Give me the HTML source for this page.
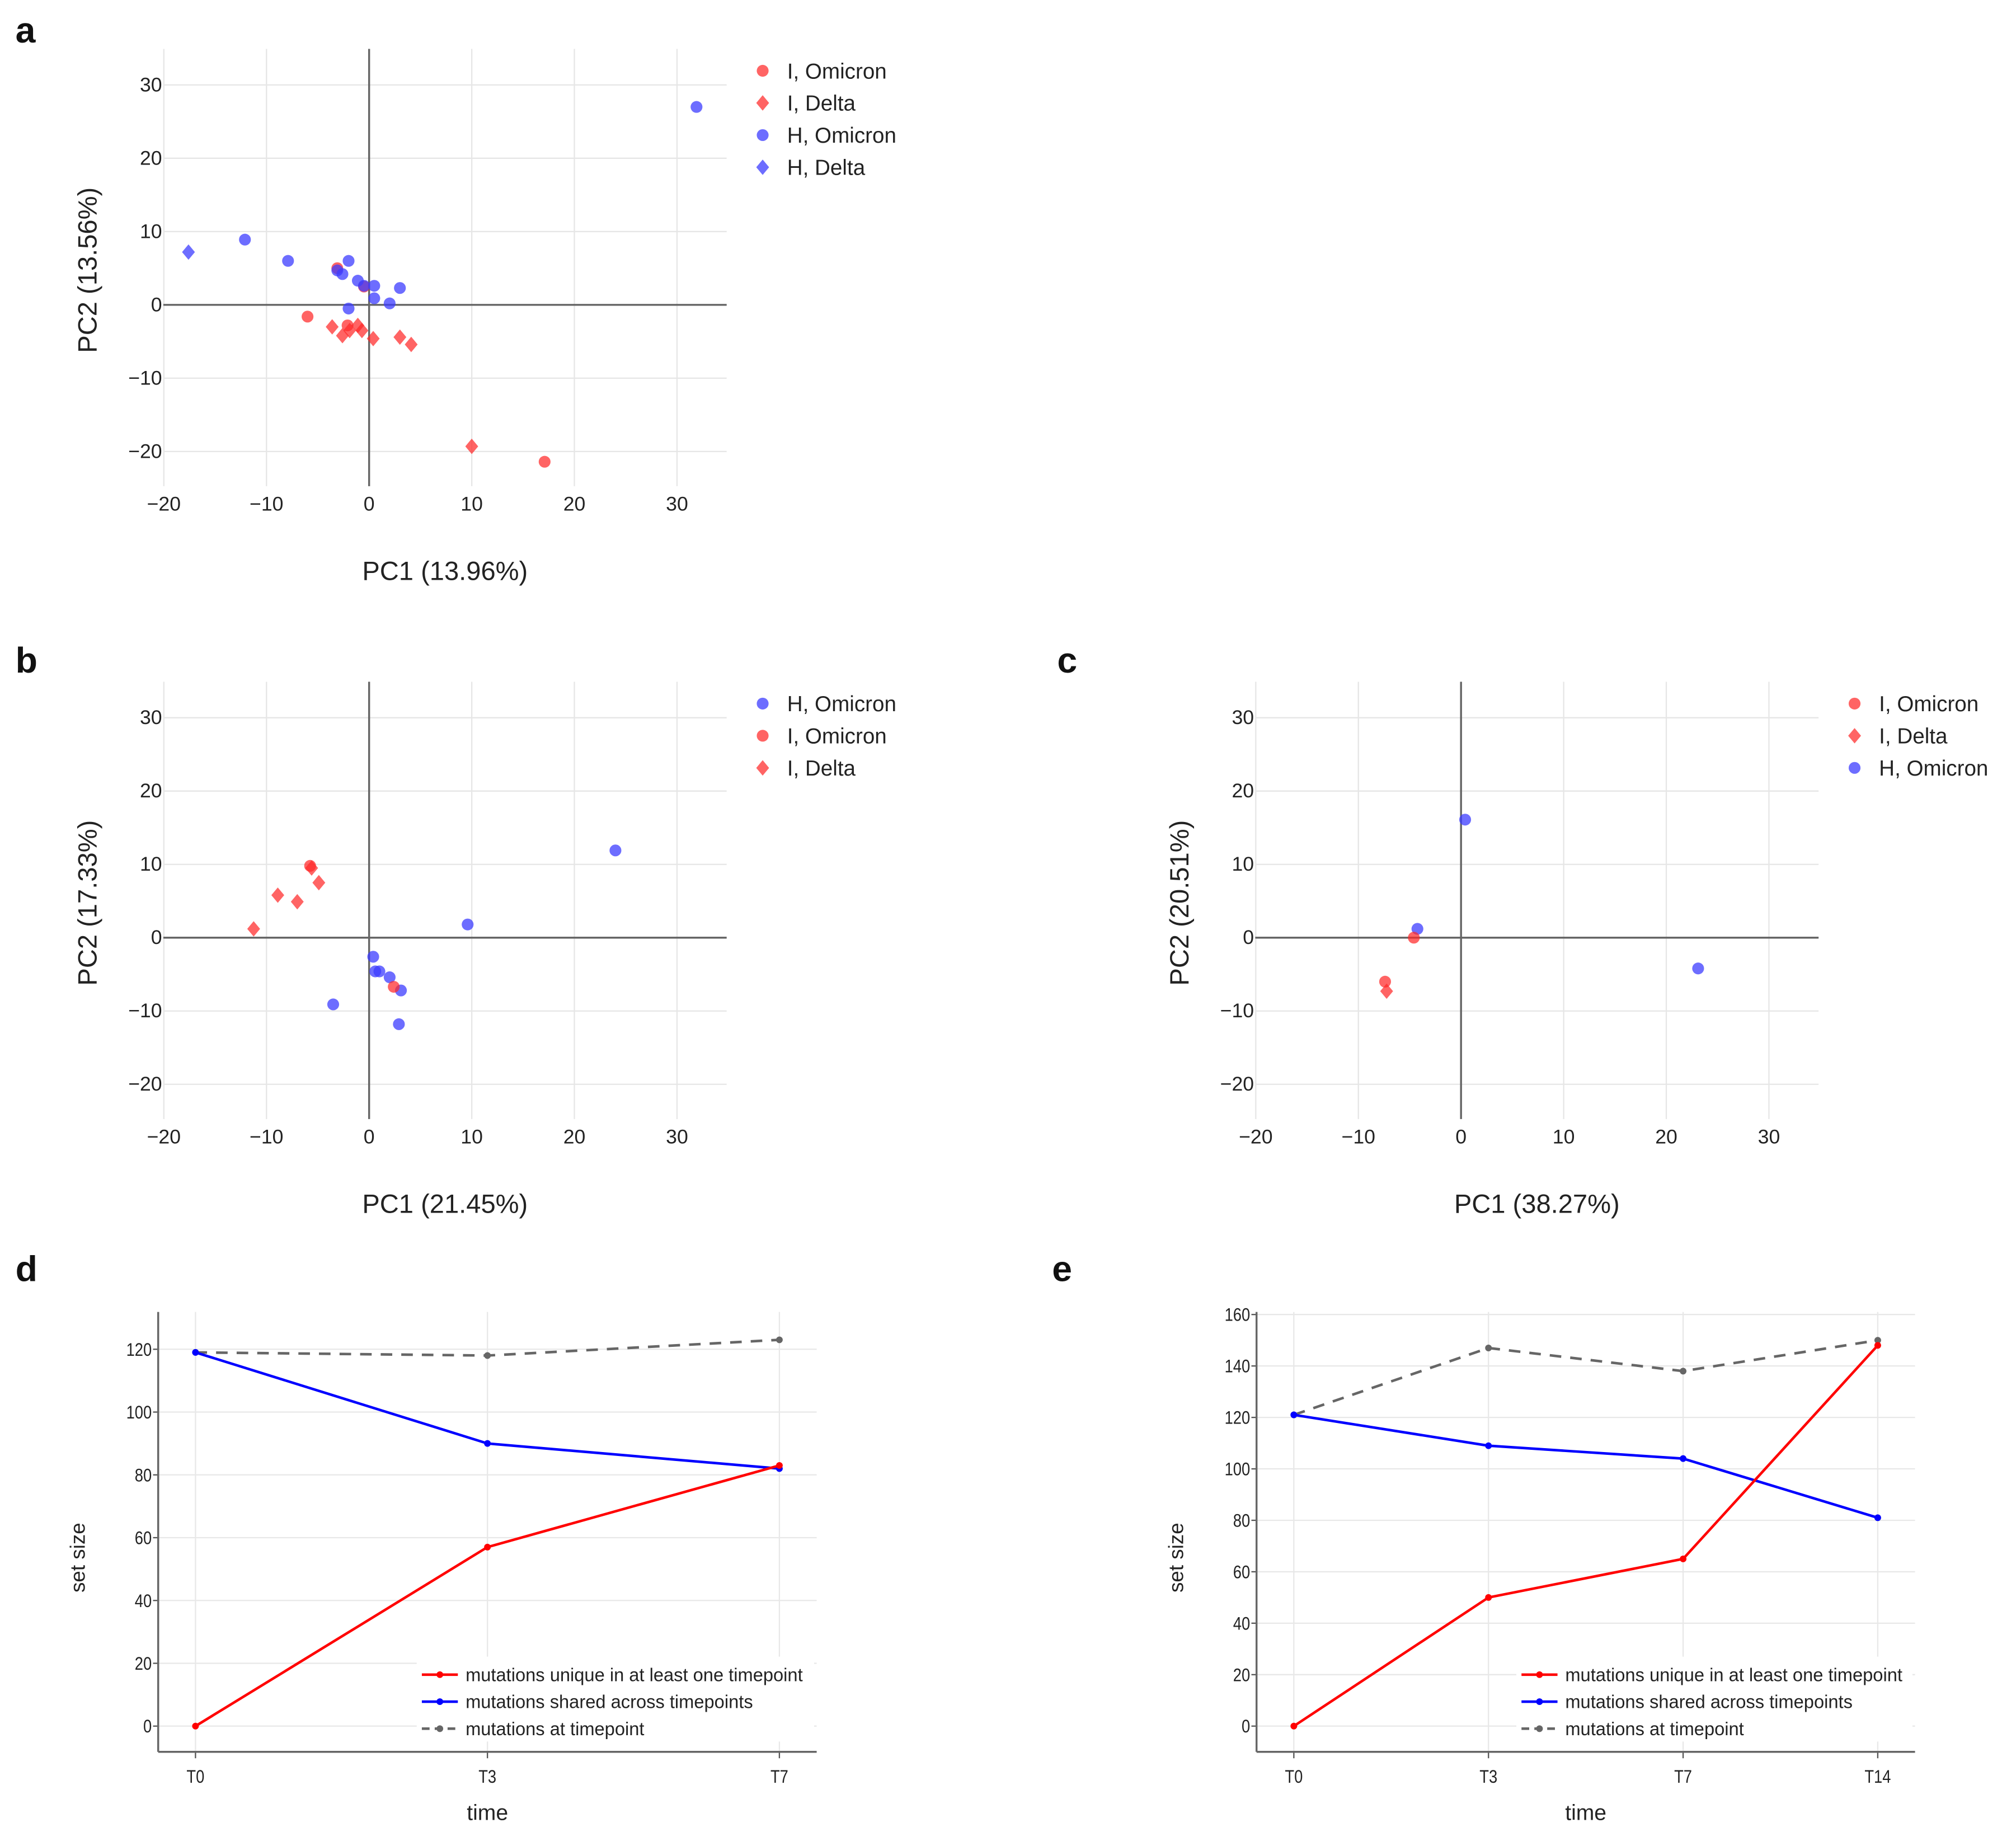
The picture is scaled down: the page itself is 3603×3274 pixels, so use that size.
<!DOCTYPE html>
<html><head><meta charset="utf-8"><style>
html,body{margin:0;padding:0;background:#fff;}
svg{display:block;font-family:"Liberation Sans",sans-serif;}
</style></head><body>
<svg id="fig" width="3603" height="3274" viewBox="0 0 1567.5 1424.3" xmlns="http://www.w3.org/2000/svg">
<rect width="1567.5" height="1424.3" fill="#fff"/>
<g id="root"></g>
</svg>
<script>
// ---- Panel a data ----
const aHOmiX=[31.9,-12.1,-7.9,-2,-3.1,-2.6,-1.1,0.5,-0.5,3,0.5,2,-2];
const aHOmiY=[27,8.9,6,6,4.7,4.2,3.3,2.6,2.6,2.3,0.9,0.2,-0.5];
const aHDelX=[-17.6];
const aHDelY=[7.2];
const aIOmiX=[-6,17.1,-3.1,-0.5,-2.1];
const aIOmiY=[-1.6,-21.4,5,2.5,-2.8];
const aIDelX=[-3.6,-2.6,-1.9,-1.1,-0.7,0.4,3,4.1,10];
const aIDelY=[-3,-4.2,-3.5,-2.8,-3.5,-4.6,-4.4,-5.4,-19.3];
// ---- Panel b data ----
const bHOmiX=[24,9.6,0.4,0.6,1,2,3.1,2.9,-3.5];
const bHOmiY=[11.9,1.8,-2.6,-4.6,-4.6,-5.4,-7.2,-11.8,-9.1];
const bIOmiX=[-5.75,2.4];
const bIOmiY=[9.8,-6.7];
const bIDelX=[-5.6,-4.9,-8.9,-7,-11.25];
const bIDelY=[9.5,7.5,5.8,4.9,1.2];
// ---- Panel c data ----
const cHOmiX=[0.4,-4.25,23.1];
const cHOmiY=[16.1,1.2,-4.2];
const cIOmiX=[-4.6,-7.4];
const cIOmiY=[0,-6];
const cIDelX=[-7.25];
const cIDelY=[-7.3];
const pcaTicks=[-20,-10,0,10,20,30];
// ---- Panel d data ----
const dCats=["T0","T3","T7"];
const dUnique=[0,57,83];
const dShared=[119,90,82];
const dAt=[119,118,123];
const dTicks=[0,20,40,60,80,100,120];
// ---- Panel e data ----
const eCats=["T0","T3","T7","T14"];
const eUnique=[0,50,65,148];
const eShared=[121,109,104,81];
const eAt=[121,147,138,150];
const eTicks=[0,20,40,60,80,100,120,140,160];

const NS="http://www.w3.org/2000/svg";
const root=document.getElementById('root');
function mk(tag,attrs,parent,text){const e=document.createElementNS(NS,tag);for(const k in attrs)e.setAttribute(k,attrs[k]);if(text!==undefined)e.textContent=text;(parent||root).appendChild(e);return e;}

const RED="rgba(255,40,40,0.72)", BLUE="rgba(60,60,255,0.75)";

function panelLetter(t,x,y){
  const e=mk('text',{x:x,y:y,'font-size':28,'font-weight':'bold',fill:'#111'},root,t);
  
  
}

function pca(id,ox,oy,series,legend,xt,yt){
  const g=mk('g',{});
  
  
  const sx=v=>ox+287+v*7.98, sy=v=>oy+237-v*5.7;
  const top=oy+38,bot=oy+378,left=ox+127,right=ox+565;
  pcaTicks.forEach(t=>{
    const l=mk('line',{x1:sx(t),x2:sx(t),y1:top,y2:bot,stroke:'#e6e6e6','stroke-width':1},g);
    
    
    const lb=mk('text',{x:sx(t),y:oy+397,'font-size':15.5,'text-anchor':'middle',fill:'#222'},g,t<0?'\u2212'+(-t):t);
    
    
    const h=mk('line',{x1:left,x2:right,y1:sy(t),y2:sy(t),stroke:'#e6e6e6','stroke-width':1},g);
    
    
    const yl=mk('text',{x:left-1,y:sy(t)+5,'font-size':15.5,'text-anchor':'end',fill:'#222'},g,t<0?'\u2212'+(-t):t);
    
    
  });
  const ax=mk('line',{x1:sx(0),x2:sx(0),y1:top,y2:bot,stroke:'#666','stroke-width':1.5},g);
  
  
  const ay=mk('line',{x1:left,x2:right,y1:sy(0),y2:sy(0),stroke:'#666','stroke-width':1.5},g);
  
  
  series.forEach(s=>{
    s.xs.forEach((v,i)=>{
      const px=sx(v),py=sy(s.ys[i]);
      let m;
      if(s.shape==='d') m=mk('polygon',{points:`${px},${py-6} ${px+5},${py} ${px},${py+6} ${px-5},${py}`,fill:s.col},g);
      else m=mk('circle',{cx:px,cy:py,r:4.6,fill:s.col},g);
      
      
    });
  });
  const xt1=mk('text',{x:ox+346,y:oy+451,'font-size':20.5,'text-anchor':'middle',fill:'#222'},g,xt);
  
  
  const yt1=mk('text',{transform:`translate(${ox+75},${oy+210}) rotate(-90)`,'font-size':20.5,'text-anchor':'middle',fill:'#222'},g,yt);
  
  
  legend.forEach((L,i)=>{
    const y=oy+55+i*25, mx=ox+593+(L.dx||0);
    let m;
    if(L.shape==='d') m=mk('polygon',{points:`${mx},${y-6} ${mx+5},${y} ${mx},${y+6} ${mx-5},${y}`,fill:L.col},g);
    else m=mk('circle',{cx:mx,cy:y,r:4.6,fill:L.col},g);
    
    
    const t=mk('text',{x:mx+19,y:y+6,'font-size':16.8,fill:'#222'},g,L.label);
    
    
  });
}

panelLetter('a',12,33);
pca('a',0,0,[
  {name:'i-omicron',xs:aIOmiX,ys:aIOmiY,col:RED,shape:'c'},
  {name:'i-delta',xs:aIDelX,ys:aIDelY,col:RED,shape:'d'},
  {name:'h-omicron',xs:aHOmiX,ys:aHOmiY,col:BLUE,shape:'c'},
  {name:'h-delta',xs:aHDelX,ys:aHDelY,col:BLUE,shape:'d'}],
  [{label:'I, Omicron',col:RED,shape:'c'},{label:'I, Delta',col:RED,shape:'d'},{label:'H, Omicron',col:BLUE,shape:'c'},{label:'H, Delta',col:BLUE,shape:'d'}],
  'PC1 (13.96%)','PC2 (13.56%)');
panelLetter('b',12,523);
pca('b',0,492,[
  {name:'h-omicron',xs:bHOmiX,ys:bHOmiY,col:BLUE,shape:'c'},
  {name:'i-omicron',xs:bIOmiX,ys:bIOmiY,col:RED,shape:'c'},
  {name:'i-delta',xs:bIDelX,ys:bIDelY,col:RED,shape:'d'}],
  [{label:'H, Omicron',col:BLUE,shape:'c'},{label:'I, Omicron',col:RED,shape:'c'},{label:'I, Delta',col:RED,shape:'d'}],
  'PC1 (21.45%)','PC2 (17.33%)');
panelLetter('c',822,523);
pca('c',849,492,[
  {name:'h-omicron',xs:cHOmiX,ys:cHOmiY,col:BLUE,shape:'c'},
  {name:'i-omicron',xs:cIOmiX,ys:cIOmiY,col:RED,shape:'c'},
  {name:'i-delta',xs:cIDelX,ys:cIDelY,col:RED,shape:'d'}],
  [{label:'I, Omicron',col:RED,shape:'c'},{label:'I, Delta',col:RED,shape:'d'},{label:'H, Omicron',col:BLUE,shape:'c'}],
  'PC1 (38.27%)','PC2 (20.51%)');

function linePanel(id,cfg){
  const g=mk('g',{});
  
  
  const {left,right,top,bottom,cx0,cx1,y0px,ymaxv,ymaxpx,cats,ticks}=cfg;
  const sx=i=>cx0+i*(cx1-cx0)/(cats.length-1);
  const sy=v=>y0px-v*(y0px-ymaxpx)/ymaxv;
  ticks.forEach(t=>{
    const h=mk('line',{x1:left,x2:right,y1:sy(t),y2:sy(t),stroke:'#e8e8e8','stroke-width':1},g);
    
    
    mk('line',{x1:left-4,x2:left,y1:sy(t),y2:sy(t),stroke:'#555','stroke-width':1},g);
    const l=mk('text',{x:0,y:0,'font-size':14,'text-anchor':'end',fill:'#222',transform:`translate(${left-5},${sy(t)+5}) scale(0.85,1)`},g,t);
    
    
  });
  cats.forEach((c,i)=>{
    const v=mk('line',{x1:sx(i),x2:sx(i),y1:top,y2:bottom,stroke:'#e8e8e8','stroke-width':1},g);
    
    
    mk('line',{x1:sx(i),x2:sx(i),y1:bottom,y2:bottom+5,stroke:'#555','stroke-width':1},g);
    const l=mk('text',{x:0,y:0,'font-size':14,'text-anchor':'middle',fill:'#222',transform:`translate(${sx(i)},${bottom+24}) scale(0.85,1)`},g,c);
    
    
  });
  const la=mk('line',{x1:left,x2:left,y1:top,y2:bottom,stroke:'#666','stroke-width':1.5},g);
  
  
  const lb=mk('line',{x1:left,x2:right,y1:bottom,y2:bottom,stroke:'#666','stroke-width':1.5},g);
  
  
  const series=[
    {name:'mutations-at-timepoint',vals:cfg.at,col:'#666',dash:'9,7'},
    {name:'mutations-shared',vals:cfg.shared,col:'#0000ff',dash:''},
    {name:'mutations-unique',vals:cfg.unique,col:'#ff0000',dash:''}];
  const lx=cfg.legX;
  const bg=mk('rect',{x:lx-4,y:bottom-74,width:right-lx+2,height:66,fill:'#fff'},g);
  
  
  series.forEach(s=>{
    const pts=s.vals.map((v,i)=>sx(i)+','+sy(v)).join(' ');
    const pl=mk('polyline',{points:pts,fill:'none',stroke:s.col,'stroke-width':2,'stroke-dasharray':s.dash},g);
    
    
    s.vals.forEach((v,i)=>{
      const c=mk('circle',{cx:sx(i),cy:sy(v),r:2.6,fill:s.col},g);
      
      
    });
  });
  const leg=[['mutations unique in at least one timepoint','#ff0000',''],['mutations shared across timepoints','#0000ff',''],['mutations at timepoint','#666','6,4']];
  leg.forEach((L,i)=>{
    const y=bottom-60+i*21;
    mk('line',{x1:lx,x2:lx+28,y1:y,y2:y,stroke:L[1],'stroke-width':2,'stroke-dasharray':L[2]},g);
    mk('circle',{cx:lx+14,cy:y,r:2.6,fill:L[1]},g);
    const t=mk('text',{x:0,y:0,'font-size':14.5,fill:'#222',transform:`translate(${lx+34},${y+5}) scale(0.98,1)`},g,L[0]);
    
    
  });
  const xt=mk('text',{x:(left+right)/2,y:bottom+53,'font-size':17,'text-anchor':'middle',fill:'#222'},g,'time');
  
  
  const yt=mk('text',{transform:`translate(${cfg.ytX},${(top+bottom)/2+20}) rotate(-90)`,'font-size':16,'text-anchor':'middle',fill:'#222'},g,'set size');
  
  
}

panelLetter('d',12,996);
linePanel('d',{left:123,right:635,top:1020,bottom:1362,cx0:152,cx1:606,y0px:1342,ymaxv:120,ymaxpx:1049,cats:dCats,ticks:dTicks,unique:dUnique,shared:dShared,at:dAt,legX:328,ytX:66});
panelLetter('e',818,996);
linePanel('e',{left:977,right:1489,top:1020,bottom:1362,cx0:1006,cx1:1460,y0px:1342,ymaxv:160,ymaxpx:1022,cats:eCats,ticks:eTicks,unique:eUnique,shared:eShared,at:eAt,legX:1183,ytX:920});
</script>
</body></html>
